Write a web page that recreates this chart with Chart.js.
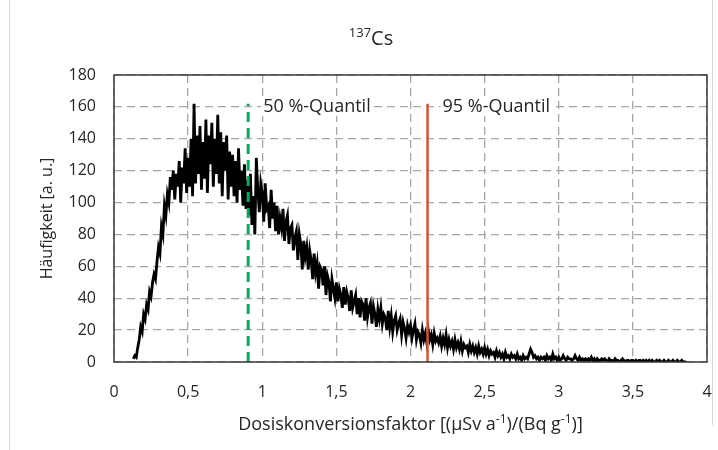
<!DOCTYPE html>
<html>
<head>
<meta charset="utf-8">
<script src="https://cdn.jsdelivr.net/npm/chart.js@4.4.1/dist/chart.umd.min.js"></script>
<style>
  html, body { margin: 0; padding: 0; background: #fff; }
  #wrap { width: 718px; height: 450px; }
</style>
</head>
<body>
<div id="wrap"><canvas id="c" width="718" height="450"></canvas></div>
<script>
// Histogram: bins of 0.01 starting at 0.13
const binStart = 0.13;
const binWidth = 0.01;
const counts = [
  2, 4, 3, 9, 14, 22, 19,
  30, 27, 36, 33, 44, 41, 50, 55, 52, 63,
  72, 68, 85, 80, 98, 92, 105, 100, 116, 108,
  120, 102, 118, 110, 126, 100, 122, 112, 134, 106,
  128, 110, 140, 104, 162, 112, 142, 118, 148, 108,
  138, 115, 152, 106, 142, 124, 150, 110, 140, 118,
  155, 112, 144, 104, 138, 120, 142, 102, 132, 110,
  130, 104, 126, 100, 134, 108, 120, 98, 124, 96,
  114, 92, 118, 86, 104, 80, 128, 108, 94, 112,
  106, 88, 112, 96, 98, 84, 108, 90, 100, 82,
  98, 80, 90, 84, 96, 76, 88, 92, 74, 84,
  86, 70, 78, 82, 64, 80, 74, 58, 76, 66,
  72, 58, 70, 64, 52, 68, 56, 62, 46, 60,
  58, 48, 60, 42, 54, 50, 38, 52, 46, 40,
  50, 38, 46, 42, 34, 47, 36, 44, 40, 32,
  45, 34, 38, 42, 30, 40, 28, 38, 36, 26,
  40, 28, 34, 37, 24, 35, 30, 22, 33, 27,
  34, 24, 30, 28, 20, 32, 22, 29, 19, 26,
  29, 20, 24, 27, 17, 25, 21, 15, 23, 19,
  23, 15, 20, 24, 14, 19, 17, 12, 20, 14,
  18, 12, 20, 14, 17, 11, 18, 13, 15, 12,
  16, 10, 15, 11, 17, 9, 14, 10, 13, 8,
  14, 9, 12, 8, 13, 7, 11, 9, 10, 6,
  11, 7, 10, 6, 9, 5, 10, 6, 8, 5,
  9, 5, 8, 4, 7, 5, 6, 3, 7, 4,
  6, 3, 5, 2, 6, 3, 4, 2, 5, 3,
  4, 2, 5, 2, 3, 1, 4, 2, 3, 2,
  5, 8, 6, 3, 4, 2, 3, 1, 3, 2,
  3, 1, 4, 2, 3, 1, 5, 2, 3, 1,
  3, 1, 2, 4, 2, 1, 3, 2, 2, 1,
  2, 4, 2, 1, 3, 1, 2, 1, 2, 1,
  2, 1, 3, 1, 2, 0, 2, 1, 1, 2,
  1, 2, 1, 0, 2, 1, 1, 0, 2, 1,
  1, 0, 1, 2, 1, 0, 1, 1, 0, 1,
  1, 0, 1, 0, 1, 1, 0, 1, 0, 1,
  0, 1, 0, 1, 0, 0, 1, 0, 1, 0,
  0, 1, 0, 0, 1, 0, 0, 1, 0, 0,
  1, 0, 0, 1, 0, 0, 0
];

// Quantile markers
const quantile50 = 0.905;
const quantile95 = 2.115;
const quantileTop = 162;
const quantileLabels = ['50 %-Quantil', '95 %-Quantil'];

// Axis ticks
const xTicks = [0, 0.5, 1, 1.5, 2, 2.5, 3, 3.5, 4];
const yTicks = [0, 20, 40, 60, 80, 100, 120, 140, 160, 180];

const FONT = "'Open Sans', 'Noto Sans', sans-serif";
const textColor = '#262626';
const gridColor = '#a6a6a6';

const histPoints = counts.map((v, i) => ({ x: +(binStart + i * binWidth).toFixed(3), y: v }));

// Draws title, x-axis title (with superscripts), quantile labels, plot frame
const overlay = {
  id: 'overlay',
  afterDatasetsDraw(chart) {
    const { ctx, chartArea: a, scales } = chart;
    ctx.save();

    // plot frame
    ctx.strokeStyle = '#3a3a3a';
    ctx.lineWidth = 1.5;
    ctx.strokeRect(a.left, a.top, a.right - a.left, a.bottom - a.top);

    // quantile labels
    ctx.font = '18px ' + FONT;
    ctx.textBaseline = 'middle';
    ctx.textAlign = 'left';
    const ly = scales.y.getPixelForValue(160);
    [quantile50, quantile95].forEach((q, i) => {
      const lx = scales.x.getPixelForValue(q) + 15;
      const w = ctx.measureText(quantileLabels[i]).width;
      ctx.fillStyle = '#fff';
      ctx.fillRect(lx - 2, ly - 9, w + 4, 18);
      ctx.fillStyle = textColor;
      ctx.fillText(quantileLabels[i], lx, ly);
    });

    // mixed text with superscripts
    const drawRich = (parts, cx, baseline, size) => {
      const sup = Math.round(size * 0.65);
      let total = 0;
      parts.forEach(p => {
        ctx.font = (p[1] ? sup : size) + 'px ' + FONT;
        total += ctx.measureText(p[0]).width;
      });
      let x = cx - total / 2;
      ctx.textAlign = 'left';
      ctx.textBaseline = 'alphabetic';
      ctx.fillStyle = textColor;
      parts.forEach(p => {
        ctx.font = (p[1] ? sup : size) + 'px ' + FONT;
        ctx.fillText(p[0], x, p[1] ? baseline - size * 0.38 : baseline);
        x += ctx.measureText(p[0]).width;
      });
    };

    drawRich([['137', 1], ['Cs', 0]], 371, 45, 20);
    drawRich([
      ['Dosiskonversionsfaktor [(\u00b5Sv a', 0], ['-1', 1],
      [')/(Bq g', 0], ['-1', 1], [')]', 0]
    ], (a.left + a.right) / 2, 430, 18);

    ctx.restore();
  },
  beforeDraw(chart) {
    const { ctx } = chart;
    ctx.save();
    ctx.fillStyle = '#fff';
    ctx.fillRect(0, 0, chart.width, chart.height);
    ctx.strokeStyle = '#d9d9d9';
    ctx.lineWidth = 1;
    ctx.beginPath();
    ctx.moveTo(9.5, 0);
    ctx.lineTo(9.5, 450);
    ctx.moveTo(712.5, 0);
    ctx.lineTo(712.5, 425);
    ctx.stroke();
    ctx.restore();
  }
};

new Chart(document.getElementById('c'), {
  type: 'line',
  data: {
    datasets: [
      {
        data: histPoints,
        borderColor: '#000',
        borderWidth: 2.8,
        pointRadius: 0,
        tension: 0,
        order: 2
      },
      {
        data: [{ x: quantile50, y: 0 }, { x: quantile50, y: quantileTop }],
        borderColor: '#00b050',
        borderWidth: 3,
        borderDash: [10, 6],
        pointRadius: 0,
        order: 1
      },
      {
        data: [{ x: quantile95, y: 0 }, { x: quantile95, y: quantileTop }],
        borderColor: '#d0553a',
        borderWidth: 2.5,
        pointRadius: 0,
        order: 1
      }
    ]
  },
  options: {
    responsive: false,
    animation: false,
    devicePixelRatio: 1,
    layout: { padding: { left: 0, right: 11, top: 75, bottom: 0 } },
    plugins: {
      legend: { display: false },
      tooltip: { enabled: false },
      title: { display: false }
    },
    scales: {
      x: {
        type: 'linear',
        min: 0,
        max: 4,
        afterBuildTicks: (s) => { s.ticks = xTicks.map(v => ({ value: v })); },
        afterFit: (s) => { s.height = 88; s.paddingLeft = 0; s.paddingRight = 0; },
        grid: { color: gridColor, lineWidth: 1.3, drawTicks: false },
        border: { display: false, dash: [8, 5] },
        ticks: {
          color: textColor,
          font: { family: FONT, size: 16 },
          padding: 21,
          maxRotation: 0,
          callback: (v) => String(v).replace('.', ',')
        }
      },
      y: {
        min: 0,
        max: 180,
        afterBuildTicks: (s) => { s.ticks = yTicks.map(v => ({ value: v })); },
        afterFit: (s) => { s.width = 114; },
        grid: { color: gridColor, lineWidth: 1.3, drawTicks: false },
        border: { display: false, dash: [8, 5] },
        ticks: {
          color: textColor,
          font: { family: FONT, size: 16 },
          padding: 18
        },
        title: {
          display: true,
          text: 'H\u00e4ufigkeit [a. u.]',
          color: textColor,
          font: { family: FONT, size: 16 },
          padding: { top: 38, bottom: 0 }
        }
      }
    }
  },
  plugins: [overlay]
});
</script>
</body>
</html>
